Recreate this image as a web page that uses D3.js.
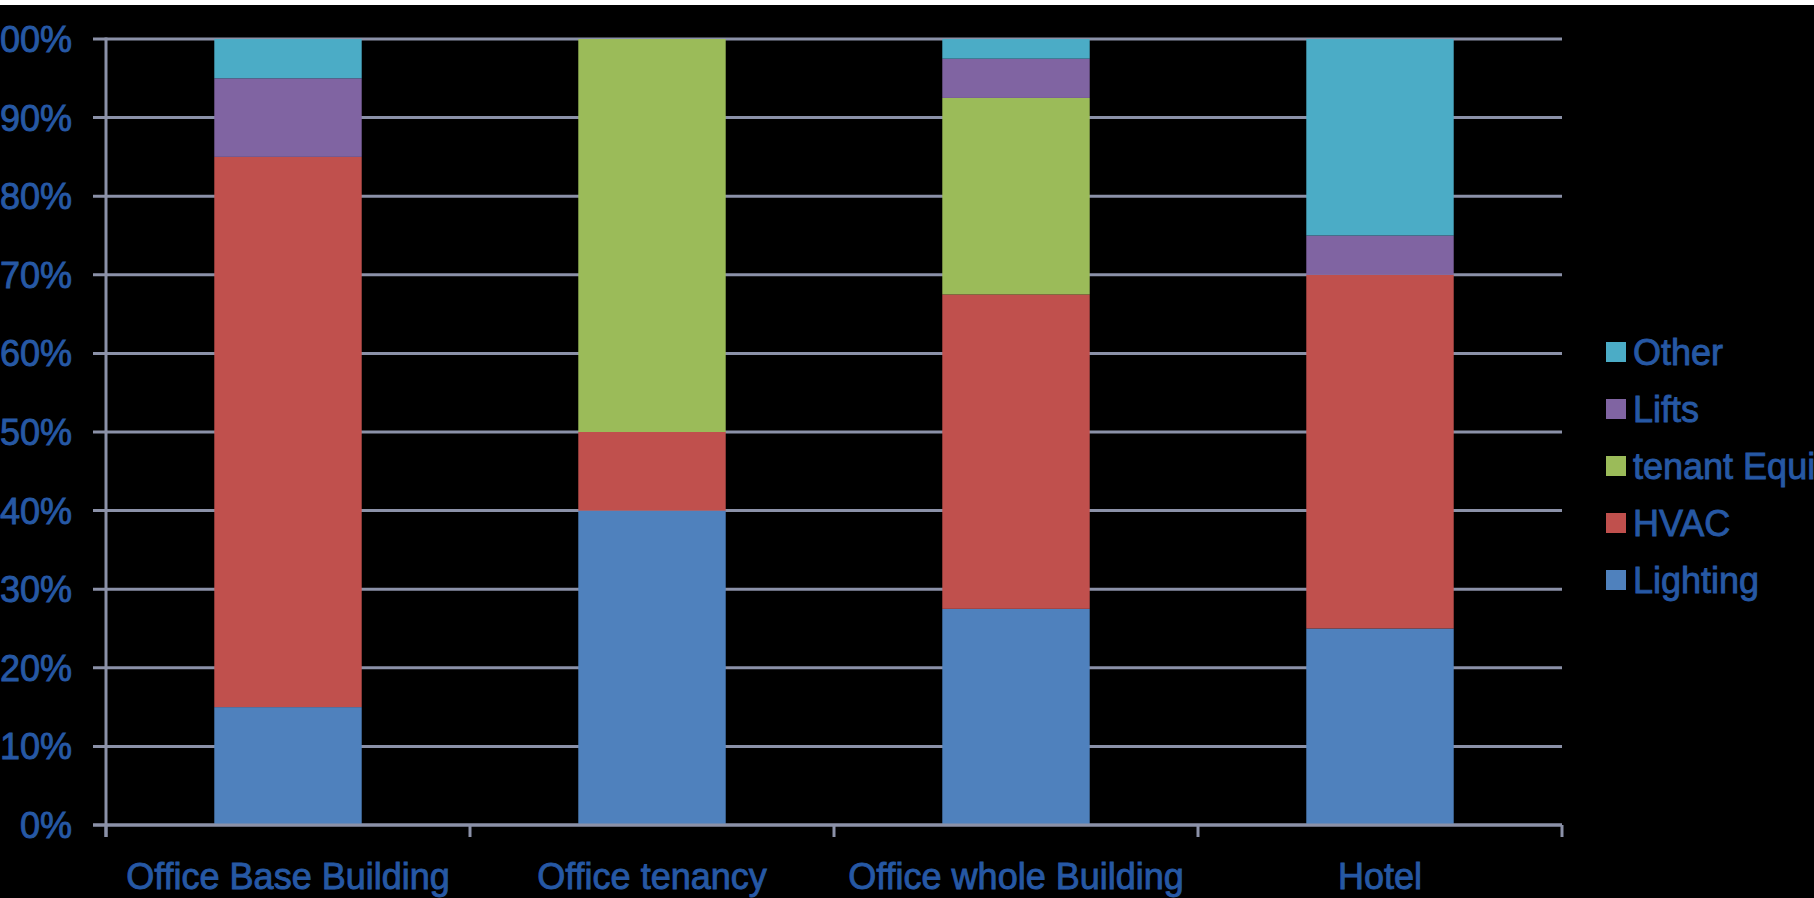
<!DOCTYPE html>
<head>
  <meta charset="utf-8">
  <script src="https://d3js.org/d3.v7.min.js"></script>
  <style>
    body { margin:0; background:#000; overflow:hidden; }
    text { font-family: "Liberation Sans", Arial, sans-serif; stroke: #2658a4; stroke-width: 0.9px; }
  </style>
</head>

<body>
  <script>
    // chart data
    var categories = ["Office Base Building", "Office tenancy", "Office whole Building", "Hotel"];
    var seriesNames = ["Lighting", "HVAC", "tenant Equipment", "Lifts", "Other"];
    var lighting = [15, 40, 27.5, 25];
    var hvac = [70, 10, 40, 45];
    var tenant = [0, 50, 25, 0];
    var lifts = [10, 0, 5, 5];
    var other = [5, 0, 2.5, 25];
    var yTicks = [0, 10, 20, 30, 40, 50, 60, 70, 80, 90, 100];

    var colors = ["#4f81bd", "#c0504d", "#9bbb59", "#8064a2", "#4bacc6"];
    var textColor = "#2658a4";
    var gridColor = "#8b91a8";

    var width = 1814, height = 898;
    var margin = {top: 39, left: 106, right: 252, bottom: 73};

    var rows = categories.map(function(c, i) {
      return {cat: c, "Lighting": lighting[i], "HVAC": hvac[i], "tenant Equipment": tenant[i],
              "Lifts": lifts[i], "Other": other[i]};
    });

    var svg = d3.select("body").append("svg")
      .attr("width", width)
      .attr("height", height);

    svg.append("rect").attr("width", width).attr("height", 5).attr("fill", "#fff");

    var x = d3.scaleBand()
      .domain(categories)
      .range([margin.left, width - margin.right])
      .paddingInner(0.595)
      .paddingOuter(0.2975);

    var y = d3.scaleLinear()
      .domain([0, 100])
      .range([height - margin.bottom, margin.top]);

    // gridlines (with the little left tick)
    svg.append("g").selectAll("line").data(yTicks).enter().append("line")
      .attr("x1", margin.left - 13)
      .attr("x2", width - margin.right)
      .attr("y1", function(d) { return y(d); })
      .attr("y2", function(d) { return y(d); })
      .attr("stroke", gridColor)
      .attr("stroke-width", 3);

    // stacked bars
    var stack = d3.stack().keys(seriesNames);
    var layers = stack(rows);

    svg.append("g").selectAll("g").data(layers).enter().append("g")
      .attr("fill", function(d, i) { return colors[i]; })
      .selectAll("rect").data(function(d) { return d; }).enter().append("rect")
      .attr("x", function(d) { return x(d.data.cat); })
      .attr("width", x.bandwidth())
      .attr("y", function(d) { return y(d[1]); })
      .attr("height", function(d) { return y(d[0]) - y(d[1]); });

    // y axis line
    svg.append("line")
      .attr("x1", margin.left).attr("x2", margin.left)
      .attr("y1", y(100) - 1.5).attr("y2", y(0) + 12)
      .attr("stroke", gridColor).attr("stroke-width", 3);

    // x axis line and ticks between categories
    svg.append("line")
      .attr("x1", margin.left - 13).attr("x2", width - margin.right)
      .attr("y1", y(0)).attr("y2", y(0))
      .attr("stroke", gridColor).attr("stroke-width", 3);

    var step = x.step();
    var xTickPos = d3.range(categories.length + 1).map(function(i) { return margin.left + i * step; });
    svg.append("g").selectAll("line").data(xTickPos).enter().append("line")
      .attr("x1", function(d) { return d; })
      .attr("x2", function(d) { return d; })
      .attr("y1", y(0))
      .attr("y2", y(0) + 12)
      .attr("stroke", gridColor)
      .attr("stroke-width", 3);

    // y labels
    svg.append("g").selectAll("text").data(yTicks).enter().append("text")
      .attr("x", 72)
      .attr("y", function(d) { return y(d); })
      .attr("dy", "0.36em")
      .attr("text-anchor", "end")
      .attr("fill", textColor)
      .style("font-size", "36px")
      .text(function(d) { return d + "%"; });

    // x labels
    svg.append("g").selectAll("text").data(categories).enter().append("text")
      .attr("x", function(d) { return x(d) + x.bandwidth() / 2; })
      .attr("y", 889)
      .attr("text-anchor", "middle")
      .attr("fill", textColor)
      .style("font-size", "36px")
      .text(function(d) { return d; });

    // legend, top to bottom in reverse series order
    var legendItems = seriesNames.map(function(n, i) { return {name: n, color: colors[i]}; }).reverse();
    var legend = svg.append("g").selectAll("g").data(legendItems).enter().append("g")
      .attr("transform", function(d, i) { return "translate(1606," + (352 + i * 57) + ")"; });

    legend.append("rect")
      .attr("x", 0).attr("y", -10)
      .attr("width", 20).attr("height", 20)
      .attr("fill", function(d) { return d.color; });

    legend.append("text")
      .attr("x", 27)
      .attr("dy", "0.36em")
      .attr("fill", textColor)
      .style("font-size", "36px")
      .text(function(d) { return d.name; });
  </script>
</body>
